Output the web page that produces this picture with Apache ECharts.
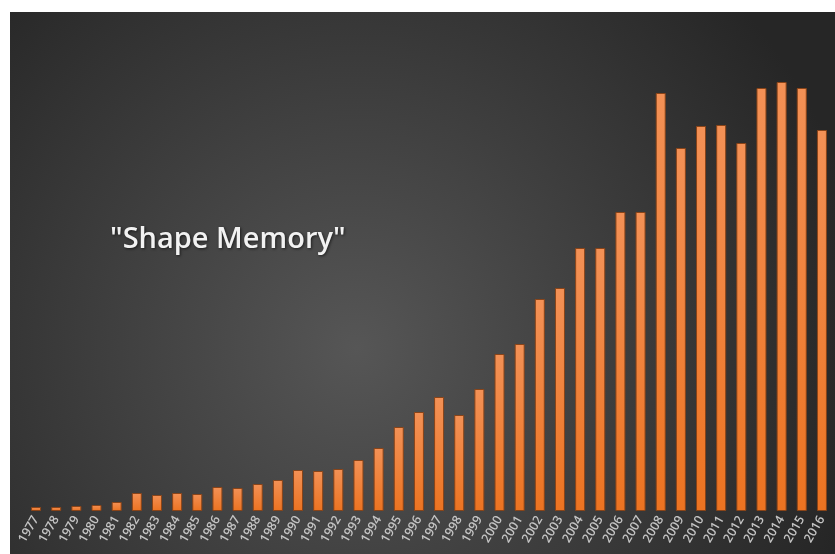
<!DOCTYPE html>
<html>
<head>
<meta charset="utf-8">
<script src="https://cdn.jsdelivr.net/npm/echarts@6/dist/echarts.min.js"></script>
<style>
html, body { margin: 0; padding: 0; background: #fff; }
#chart { width: 835px; height: 554px; }
</style>
</head>
<body>
<div id="chart"></div>
<script>
var years = ['1977', '1978', '1979', '1980', '1981', '1982', '1983', '1984', '1985', '1986',
	'1987', '1988', '1989', '1990', '1991', '1992', '1993', '1994', '1995', '1996',
	'1997', '1998', '1999', '2000', '2001', '2002', '2003', '2004', '2005', '2006',
	'2007', '2008', '2009', '2010', '2011', '2012', '2013', '2014', '2015', '2016'];
var counts = [4, 4, 5, 6, 9, 18, 16, 18, 17, 24,
	23, 27, 31, 41, 40, 42, 51, 63, 84, 99,
	114, 96, 122, 157, 167, 212, 223, 263, 263, 299,
	299, 418, 363, 385, 386, 368, 423, 429, 423, 381];
var titleText = '"Shape Memory"';

var myChart = echarts.init(document.getElementById('chart'));
var option = {
	backgroundColor: '#ffffff',
	animation: false,
	graphic: [{
		type: 'rect',
		z: -10,
		shape: { x: 10, y: 12, width: 825, height: 542 },
		style: {
			fill: {
				type: 'radial',
				x: 0.42, y: 0.62, r: 0.95,
				colorStops: [
					{ offset: 0, color: '#565656' },
					{ offset: 0.5, color: '#3e3e3e' },
					{ offset: 1, color: '#262626' }
				]
			}
		}
	}],
	title: {
		text: titleText,
		left: 105,
		top: 220,
		textStyle: {
			color: '#f2f2f2',
			fontSize: 29,
			fontWeight: 600,
			fontFamily: 'Open Sans',
			textShadowColor: 'rgba(0,0,0,0.6)',
			textShadowBlur: 3,
			textShadowOffsetX: 1,
			textShadowOffsetY: 1
		}
	},
	grid: {
		left: 26,
		right: 3,
		top: 61,
		bottom: 43,
		containLabel: false
	},
	xAxis: {
		type: 'category',
		data: years,
		axisLine: { show: false },
		axisTick: { show: false },
		axisLabel: {
			interval: 0,
			rotate: 60,
			color: '#c4c4c4',
			fontSize: 12.5,
			fontWeight: 600,
			fontFamily: 'Open Sans',
			margin: 6
		}
	},
	yAxis: {
		type: 'value',
		min: 0,
		max: 450,
		show: false,
		splitLine: { show: false }
	},
	series: [{
		type: 'bar',
		data: counts,
		barWidth: 10,
		itemStyle: {
			color: {
				type: 'linear',
				x: 0, y: 0, x2: 0, y2: 1,
				colorStops: [
					{ offset: 0, color: '#f39156' },
					{ offset: 1, color: '#ec7321' }
				]
			},
			borderColor: '#8a4418',
			borderWidth: 1
		}
	}]
};
myChart.setOption(option);
</script>
</body>
</html>
